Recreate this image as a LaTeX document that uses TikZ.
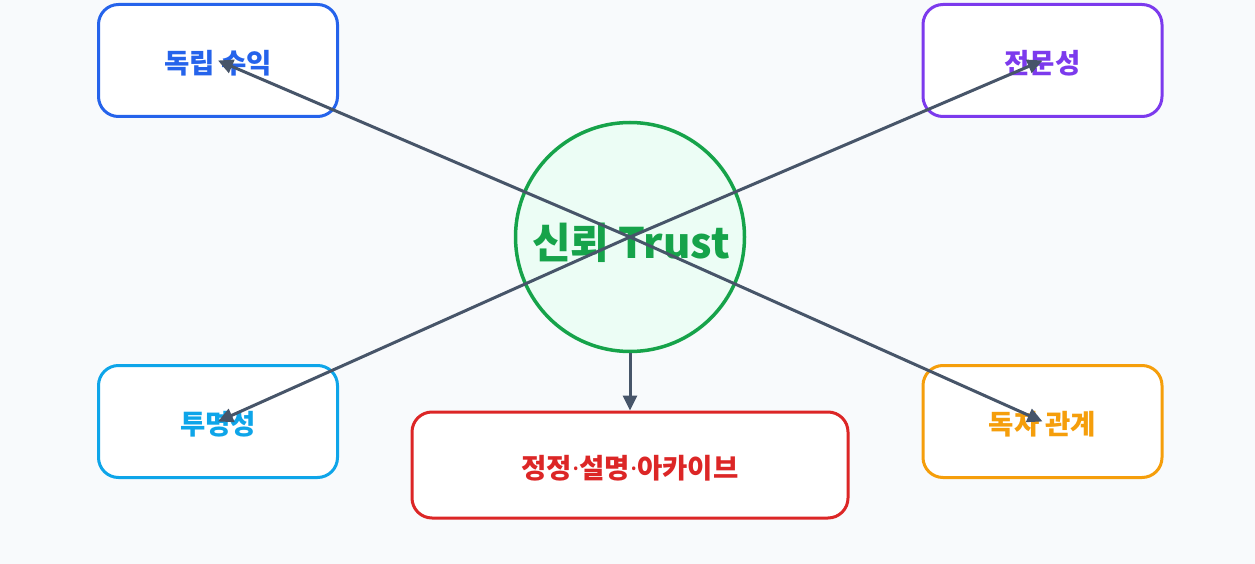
\documentclass[tikz,border=0pt]{standalone}
\usepackage{fontspec}
\setmainfont{Noto Sans CJK KR}
\newfontfamily\latinfont{Noto Sans}
\usetikzlibrary{arrows.meta}
\definecolor{bg}{HTML}{F8FAFC}
\definecolor{cblue}{HTML}{2563EB}
\definecolor{cpurple}{HTML}{7C3AED}
\definecolor{csky}{HTML}{0EA5E9}
\definecolor{corange}{HTML}{F59E0B}
\definecolor{cred}{HTML}{DC2626}
\definecolor{cgreen}{HTML}{16A34A}
\definecolor{cgreenfill}{HTML}{ECFDF5}
\definecolor{cslate}{HTML}{475569}
\newcommand{\mdot}{{\latinfont\bfseries ·}}
\tikzset{
  box/.style={draw, line width=3pt, rounded corners=20pt, fill=white,
    minimum width=239pt, minimum height=112pt, inner sep=0pt},
  lbl/.style={inner sep=0pt, font=\fontsize{27.5}{32}\selectfont\bfseries},
  hub/.style={circle, draw=cgreen, fill=cgreenfill, line width=3.5pt,
    minimum size=229pt, inner sep=0pt},
  hublbl/.style={inner sep=0pt, text=cgreen,
    font=\fontsize{42}{48}\selectfont\bfseries},
  arr/.style={draw=cslate, line width=3pt,
    -{Triangle[length=15pt,width=14pt]}},
}
\begin{document}
\begin{tikzpicture}[x=1pt,y=-1pt]
\fill[bg] (0,0) rectangle (1255,564);
\useasboundingbox (0,0) rectangle (1255,564);
\node[box, draw=cblue] (indep) at (218,60.5) {};
\node[lbl, text=cblue] (indepL) at (218,63.5) {독립 수익};
\node[box, draw=cpurple] (expert) at (1042.5,60.5) {};
\node[lbl, text=cpurple] (expertL) at (1042.5,63.5) {전문성};
\node[box, draw=csky] (transp) at (218,421.5) {};
\node[lbl, text=csky] (transpL) at (218,424.5) {투명성};
\node[box, draw=corange] (reader) at (1042.5,421.5) {};
\node[lbl, text=corange] (readerL) at (1042.5,424.5) {독자 관계};
\node[box, draw=cred, minimum width=436pt, minimum height=106pt] (fix) at (630,465) {};
\node[lbl, text=cred] (fixL) at (630,468) {정정\mdot 설명\mdot 아카이브};
\node[hub] (trust) at (630,237) {};
\node[hublbl] (trustL) at (631,243) {신뢰 Trust};
\draw[arr] (trust.center) -- (indep.center);
\draw[arr] (trust.center) -- (expert.center);
\draw[arr] (trust.center) -- (transp.center);
\draw[arr] (trust.center) -- (reader.center);
\draw[arr] (trust.south) -- (fix.north);
\end{tikzpicture}
\end{document}
